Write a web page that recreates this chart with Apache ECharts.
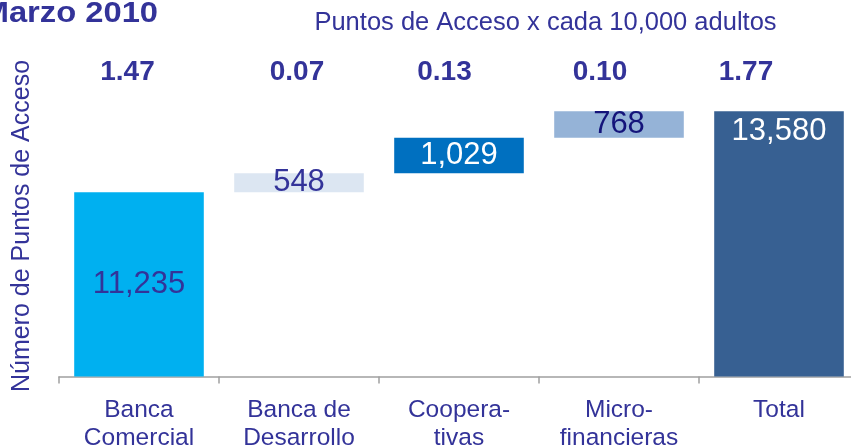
<!DOCTYPE html>
<html><head><meta charset="utf-8">
<script src="https://cdn.jsdelivr.net/npm/echarts@6/dist/echarts.min.js"></script>
<style>html,body{margin:0;padding:0;background:#fff}#c{width:851px;height:446px}</style>
</head><body><div id="c"></div>
<script>
// ---- data ----
const categories = ['Banca\nComercial', 'Banca de\nDesarrollo', 'Coopera-\ntivas', 'Micro-\nfinancieras', 'Total'];
const values = [11235, 548, 1029, 768, 13580];
const isTotal = [false, false, false, false, true];
const perTenThousand = ['1.47', '0.07', '0.13', '0.10', '1.77'];
const titleText = 'Marzo 2010';
const subtitleText = 'Puntos de Acceso x cada 10,000 adultos';
const yAxisTitle = 'Número de Puntos de Acceso';

// ---- styles ----
const barColors = ['#00B0F0', '#DCE6F2', '#0070C0', '#95B3D7', '#376092'];
const labelColors = ['#333399', '#333399', '#ffffff', '#14147A', '#ffffff'];
const perTenX = [127.5, 297, 444.5, 600, 746];
const TXT = '#333399';
const FONT = '"Liberation Sans", Arial, sans-serif';

// waterfall bases
const bases = [];
let run = 0;
values.forEach((v, i) => {
  if (isTotal[i]) { bases.push(0); }
  else { bases.push(run); run += v; }
});

const chart = echarts.init(document.getElementById('c'), null, { renderer: 'canvas' });

const graphics = [
  { type: 'text', x: 158, y: 14, scaleX: 1.09, style: { text: titleText, font: 'bold 30px ' + FONT, fill: TXT, align: 'right', verticalAlign: 'middle' } },
  { type: 'text', x: 545.5, y: 23, scaleX: 1.02, style: { text: subtitleText, font: '25px ' + FONT, fill: TXT, align: 'center', verticalAlign: 'middle' } },
  { type: 'text', x: 22, y: 226, rotation: Math.PI / 2, style: { text: yAxisTitle, font: '25px ' + FONT, fill: TXT, align: 'center', verticalAlign: 'middle' } }
];
perTenThousand.forEach((t, i) => {
  graphics.push({ type: 'text', x: perTenX[i], y: 72, style: { text: t, font: 'bold 28px ' + FONT, fill: TXT, align: 'center', verticalAlign: 'middle' } });
});

chart.setOption({
  animation: false,
  backgroundColor: '#ffffff',
  textStyle: { fontFamily: FONT },
  grid: { left: 59, width: 800, top: 62.2, bottom: 69.5, containLabel: false, outerBoundsMode: 'none' },
  xAxis: {
    type: 'category',
    data: categories,
    axisLine: { show: true, lineStyle: { color: '#A0A0A0', width: 1.5 } },
    axisTick: { show: true, length: 7, lineStyle: { color: '#A0A0A0', width: 1.5 } },
    axisLabel: { color: TXT, fontSize: 24.5, lineHeight: 28, margin: 20, fontFamily: FONT, interval: 0 },
    splitLine: { show: false }
  },
  yAxis: {
    type: 'value',
    min: 5900, max: 15000,
    show: false,
    splitLine: { show: false }
  },
  series: [
    {
      type: 'bar', stack: 'w', barWidth: '81%', silent: true,
      itemStyle: { color: 'transparent' },
      data: bases
    },
    {
      type: 'bar', stack: 'w', barWidth: '81%',
      data: values.map((v, i) => ({
        value: v,
        itemStyle: { color: barColors[i] },
        label: {
          show: true,
          position: isTotal[i] ? 'insideTop' : 'inside',
          distance: 5,
          color: labelColors[i],
          fontSize: 31,
          fontFamily: FONT,
          formatter: () => v.toLocaleString('en-US')
        }
      }))
    }
  ],
  graphic: graphics
});
</script>
</body></html>
